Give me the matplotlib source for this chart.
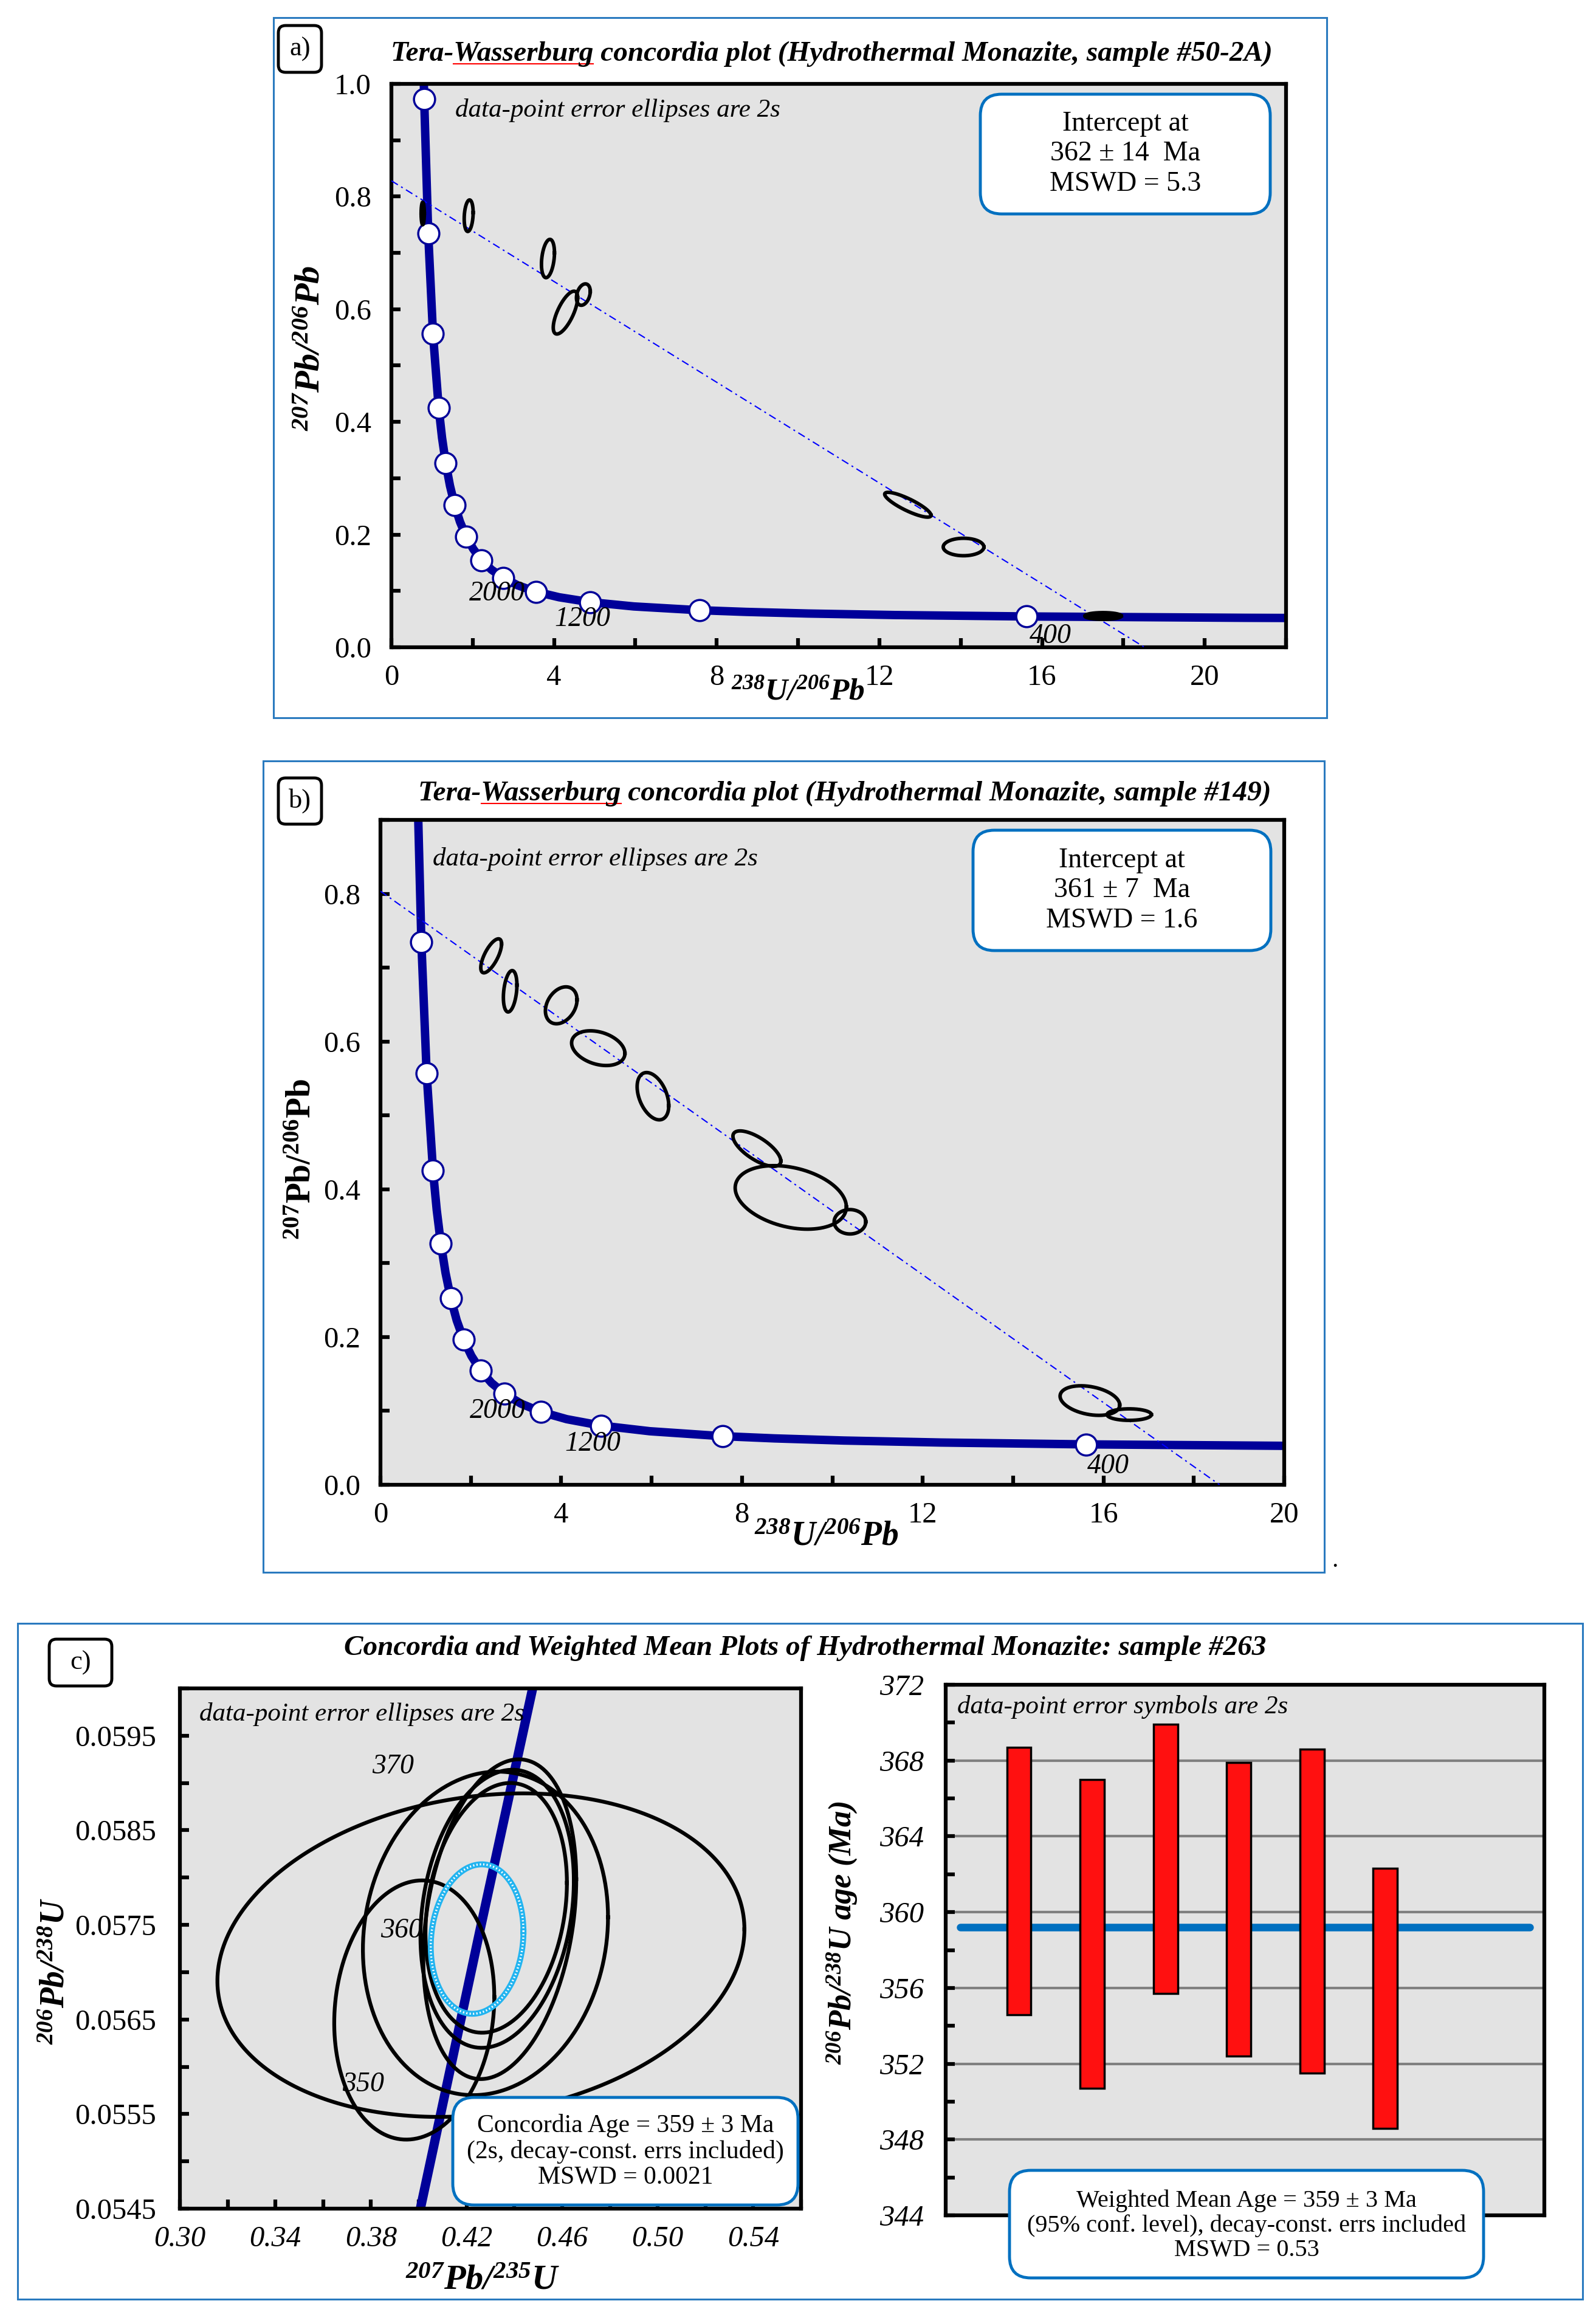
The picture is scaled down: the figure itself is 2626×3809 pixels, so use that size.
import numpy as np
import matplotlib
matplotlib.use("Agg")
import matplotlib.pyplot as plt
from matplotlib.patches import FancyBboxPatch, Rectangle
from matplotlib.lines import Line2D
from matplotlib.transforms import IdentityTransform
from matplotlib.ticker import MultipleLocator

plt.rcParams['font.family'] = ['Liberation Serif', 'DejaVu Serif']
plt.rcParams['mathtext.fontset'] = 'custom'
plt.rcParams['mathtext.rm'] = 'Liberation Serif'
plt.rcParams['mathtext.it'] = 'Liberation Serif:italic'
plt.rcParams['mathtext.bf'] = 'Liberation Serif:bold'
plt.rcParams['mathtext.bfit'] = 'Liberation Serif:italic:bold'

# ---- Tera-Wasserburg concordia (panels a, b) ----
tw_curve_x = [0.784, 0.806, 0.905, 1.022, 1.163, 1.245, 1.337, 1.440, 1.556, 1.687,
              1.838, 2.013, 2.217, 2.459, 2.749, 3.105, 3.550, 4.123, 4.887, 5.959,
              7.570, 8.718, 10.25, 12.40, 15.62, 20.99, 22.5]
tw_curve_y = [1.046, 0.9735, 0.7348, 0.557, 0.425, 0.372, 0.3265, 0.2868, 0.2524, 0.2226,
              0.1968, 0.1744, 0.1548, 0.1378, 0.1233, 0.1100, 0.0987, 0.0888, 0.0801, 0.0725,
              0.0658, 0.0628, 0.0599, 0.0572, 0.0547, 0.0523, 0.0519]
tw_mark_x = [0.806, 0.905, 1.022, 1.163, 1.337, 1.556, 1.838, 2.217, 2.749, 3.550, 4.887, 7.570, 15.62]
tw_mark_y = [0.9735, 0.7348, 0.557, 0.425, 0.3265, 0.2524, 0.1968, 0.1548, 0.1233, 0.0987, 0.0801, 0.0658, 0.0547]
tw_age_labels = ["2000", "1200", "400"]

# panel a: sample #50-2A
a_cx = [0.77, 1.90, 3.85, 4.28, 4.72, 12.70, 14.07, 17.50]
a_cy = [0.770, 0.766, 0.690, 0.594, 0.626, 0.253, 0.178, 0.0555]
a_sx = [0.04, 0.11, 0.16, 0.30, 0.17, 0.57, 0.50, 0.45]
a_sy = [0.020, 0.028, 0.034, 0.038, 0.019, 0.022, 0.0155, 0.006]
a_rho = [0.0, 0.2, 0.3, 0.7, 0.3, -0.85, 0.0, 0.0]
a_fill = [True, False, False, False, False, False, False, True]
a_disc_x = [0.0, 18.52]
a_disc_y = [0.828, 0.0]
a_age_x = [2.6, 4.7, 16.2]
a_age_y = [0.095, 0.050, 0.020]

# panel b: sample #149
b_cx = [2.45, 2.87, 4.00, 4.82, 6.03, 8.33, 9.08, 10.39, 15.70, 16.57]
b_cy = [0.716, 0.668, 0.649, 0.591, 0.526, 0.455, 0.389, 0.356, 0.114, 0.095]
b_sx = [0.23, 0.15, 0.35, 0.59, 0.35, 0.53, 1.23, 0.35, 0.66, 0.49]
b_sy = [0.023, 0.028, 0.025, 0.0235, 0.032, 0.024, 0.043, 0.0165, 0.020, 0.0078]
b_rho = [0.7, 0.3, 0.3, -0.3, -0.4, -0.7, -0.3, 0.0, -0.3, 0.0]
b_disc_x = [0.0, 18.57]
b_disc_y = [0.8035, 0.0]
b_age_x = [2.6, 4.7, 16.1]
b_age_y = [0.100, 0.055, 0.025]

# ---- panel c: Wetherill concordia, sample #263 ----
c_conc_x = [0.39776, 0.4116, 0.4255, 0.4397, 0.45386]
c_conc_y = [0.054158, 0.05579, 0.05743, 0.05908, 0.060719]
c_age_labels = ["370", "360", "350"]
c_age_x = [0.3893, 0.3927, 0.3767]
c_age_y = [0.05917, 0.05744, 0.05581]
c_cx = [0.4260, 0.4279, 0.3981, 0.4339, 0.4328, 0.4324]
c_cy = [0.05718, 0.05741, 0.05660, 0.05756, 0.05767, 0.05768]
c_sx = [0.1103, 0.0513, 0.0335, 0.0320, 0.0321, 0.0296]
c_sy = [0.00171, 0.00171, 0.00137, 0.00169, 0.00147, 0.00132]
c_rho = [0.16, 0.1, 0.1, 0.25, 0.2, 0.2]
conc_age = dict(cx=0.4244, cy=0.05735, sx=0.0194, sy=0.00079, rho=0.1)

# weighted mean bars
wm_lo = [354.6, 350.7, 355.7, 352.4, 351.5, 348.6]
wm_hi = [368.7, 367.0, 369.9, 367.9, 368.6, 362.3]
wm_mean = 359.2

NAVY = '#000099'
BOXBLUE = '#0070c0'
FRAMEBLUE = '#2a7abf'
BG = '#e3e3e3'
W, H = 2626, 3809
TICK = 35
NOTE = 31
BOXTXT = 33


def ellipse_xy(cx, cy, sx, sy, rho):
    t = np.linspace(0, 2 * np.pi, 300)
    return cx + sx * np.cos(t), cy + sy * (rho * np.cos(t) + np.sqrt(1 - rho ** 2) * np.sin(t))


def px_axes(x0, y0, x1, y1):
    # pixel box (top-left origin) -> axes rect
    return fig.add_axes([x0 / W, 1 - y1 / H, (x1 - x0) / W, (y1 - y0) / H])


def px_box(x0, y0, x1, y1, lw=3.5, color=BOXBLUE, r=0.35):
    p = FancyBboxPatch((x0 / 100, (H - y1) / 100), (x1 - x0) / 100, (y1 - y0) / 100,
                       boxstyle="round,pad=0,rounding_size=%g" % r,
                       transform=fig.dpi_scale_trans, fc='white', ec=color, lw=lw, zorder=5)
    fig.add_artist(p)


def px_frame(x0, y0, x1, y1):
    fig.add_artist(Rectangle((x0 / W, 1 - y1 / H), (x1 - x0) / W, (y1 - y0) / H,
                             transform=fig.transFigure, fill=False, ec=FRAMEBLUE, lw=2.2))


def style_axes(ax):
    ax.set_facecolor(BG)
    for s in ax.spines.values():
        s.set_linewidth(4.5)
        s.set_color('black')
    ax.tick_params(which='both', direction='in', length=11, width=4.5, top=False, right=False)


fig = plt.figure(figsize=(W / 100, H / 100), dpi=100)

# frames
px_frame(450, 29, 2183, 1181)
px_frame(433, 1252, 2179, 2587)
px_frame(29, 2671, 2604, 3783)
fig.text(2196 / W, 1 - 2578 / H, ".", fontsize=30, ha='center', va='baseline')

# panel letter boxes
for (x0, y0, x1, y1, lab) in [(458, 42, 529, 119, "a)"), (458, 1280, 529, 1356, "b)"), (81, 2697, 184, 2774, "c)")]:
    px_box(x0, y0, x1, y1, lw=3.5, color='black', r=0.12)
    fig.text((x0 + x1) / 2 / W, 1 - (y0 + y1) / 2 / H, lab, fontsize=32, ha='center', va='center', zorder=6)

title_kw = dict(fontsize=34, fontweight='bold', fontstyle='italic', ha='center', va='center', zorder=6)
ta = fig.text(1368 / W, 1 - 89 / H, "Tera-Wasserburg concordia plot (Hydrothermal Monazite, sample #50-2A)", **title_kw)
tb = fig.text(1390 / W, 1 - 1306 / H, "Tera-Wasserburg concordia plot (Hydrothermal Monazite, sample #149)", **title_kw)
fig.text(1325 / W, 1 - 2712 / H, "Concordia and Weighted Mean Plots of Hydrothermal Monazite: sample #263", **title_kw)


def tw_panel(ax, cx, cy, sx, sy, rho, fill, disc_x, disc_y, age_x, age_y, ylim, xlim, xticks):
    style_axes(ax)
    ax.plot(tw_curve_x, tw_curve_y, color=NAVY, lw=10, solid_capstyle='butt', zorder=2)
    ax.plot(tw_mark_x, tw_mark_y, 'o', ms=25, mfc='white', mec=NAVY, mew=2.5, zorder=3)
    ax.plot(disc_x, disc_y, color='#0000ff', lw=1.5, ls=(0, (6, 3, 1.5, 3)), zorder=4)
    for i in range(len(cx)):
        ex, ey = ellipse_xy(cx[i], cy[i], sx[i], sy[i], rho[i])
        if fill[i]:
            ax.fill(ex, ey, color='black', zorder=5)
        ax.plot(ex, ey, color='black', lw=4.2, zorder=5)
    for lab, x, y in zip(tw_age_labels, age_x, age_y):
        ax.text(x, y, lab, fontsize=33, fontstyle='italic', ha='center', va='center', zorder=6)
    ax.set_xlim(*xlim)
    ax.set_ylim(*ylim)
    ax.set_xticks(xticks)
    ax.set_xticklabels([str(t) for t in xticks])
    ax.xaxis.set_minor_locator(MultipleLocator(2))
    ax.yaxis.set_major_locator(MultipleLocator(0.2))
    ax.yaxis.set_minor_locator(MultipleLocator(0.1))
    ax.yaxis.set_major_formatter(plt.FuncFormatter(lambda v, p: "%.1f" % v))
    ax.tick_params(axis='y', labelsize=TICK, pad=24)
    ax.tick_params(axis='x', labelsize=TICK, pad=20)


# ---- panel a ----
ax_a = px_axes(644, 138, 2116, 1065)
tw_panel(ax_a, a_cx, a_cy, a_sx, a_sy, a_rho, a_fill, a_disc_x, a_disc_y, a_age_x, a_age_y,
         (0, 1.0), (0, 22), [0, 4, 8, 12, 16, 20])
ax_a.text(0.071, 0.953, "data-point error ellipses are 2s", transform=ax_a.transAxes,
          fontsize=NOTE, fontstyle='italic', va='center', zorder=6)
ax_a.text(-0.090, 0.531, r'$\mathbfit{^{207}Pb/^{206}Pb}$', transform=ax_a.transAxes,
          fontsize=42, rotation=90, ha='center', va='center')
ax_a.text(0.4545, -0.080, r'$\mathbfit{^{238}U/^{206}Pb}$', transform=ax_a.transAxes,
          fontsize=37, ha='center', va='center')
px_box(1613, 155, 2090, 352)
fig.text((1613 + 2090) / 2 / W, 1 - 253 / H, "Intercept at\n362 ± 14  Ma\nMSWD = 5.3",
         fontsize=BOXTXT, ha='center', va='center', linespacing=1.2, zorder=6)

# ---- panel b ----
ax_b = px_axes(626, 1349, 2113, 2443)
tw_panel(ax_b, b_cx, b_cy, b_sx, b_sy, b_rho, [False] * len(b_cx), b_disc_x, b_disc_y, b_age_x, b_age_y,
         (0, 0.9), (0, 20), [0, 4, 8, 12, 16, 20])
ax_b.text(0.058, 0.941, "data-point error ellipses are 2s", transform=ax_b.transAxes,
          fontsize=NOTE, fontstyle='italic', va='center', zorder=6)
ax_b.text(-0.087, 0.489, r'$\mathbf{^{207}Pb/^{206}Pb}$', transform=ax_b.transAxes,
          fontsize=40, rotation=90, ha='center', va='center')
ax_b.text(0.4936, -0.0777, r'$\mathbfit{^{238}U/^{206}Pb}$', transform=ax_b.transAxes,
          fontsize=40, ha='center', va='center')
px_box(1601, 1366, 2091, 1564)
fig.text((1601 + 2091) / 2 / W, 1 - 1465 / H, "Intercept at\n361 ± 7  Ma\nMSWD = 1.6",
         fontsize=BOXTXT, ha='center', va='center', linespacing=1.2, zorder=6)

# ---- panel c left: concordia ----
ax_c = px_axes(296, 2778, 1318, 3634)
style_axes(ax_c)
ax_c.plot(c_conc_x, c_conc_y, color=NAVY, lw=11, zorder=2)
for i in range(len(c_cx)):
    ex, ey = ellipse_xy(c_cx[i], c_cy[i], c_sx[i], c_sy[i], c_rho[i])
    ax_c.plot(ex, ey, color='black', lw=4.5, zorder=3)
ex, ey = ellipse_xy(**conc_age)
ax_c.plot(ex, ey, color='#22b4f0', lw=7, zorder=4)
ax_c.plot(ex, ey, color='white', lw=2.5, ls=(0, (0.6, 1.0)), zorder=5)
for lab, x, y in zip(c_age_labels, c_age_x, c_age_y):
    ax_c.text(x, y, lab, fontsize=33, fontstyle='italic', ha='center', va='center', zorder=6)
ax_c.set_xlim(0.30, 0.56)
ax_c.set_ylim(0.0545, 0.0600)
ax_c.set_xticks(np.arange(0.30, 0.55, 0.04))
ax_c.xaxis.set_major_formatter(plt.FuncFormatter(lambda v, p: "%.2f" % v))
ax_c.xaxis.set_minor_locator(MultipleLocator(0.02))
ax_c.set_yticks([0.0545, 0.0555, 0.0565, 0.0575, 0.0585, 0.0595])
ax_c.yaxis.set_major_formatter(plt.FuncFormatter(lambda v, p: "%.4f" % v))
ax_c.yaxis.set_minor_locator(MultipleLocator(0.0005))
ax_c.tick_params(axis='y', labelsize=TICK, pad=28)
ax_c.tick_params(axis='x', labelsize=TICK, pad=20)
for t in ax_c.get_xticklabels():
    t.set_fontstyle('italic')
ax_c.text(0.031, 0.95, "data-point error ellipses are 2s", transform=ax_c.transAxes,
          fontsize=NOTE, fontstyle='italic', va='center', zorder=6)
ax_c.text(-0.20, 0.457, r'$\mathbfit{^{206}Pb/^{238}U}$', transform=ax_c.transAxes,
          fontsize=40, rotation=90, ha='center', va='center')
ax_c.text(0.487, -0.138, r'$\mathbfit{^{207}Pb/^{235}U}$', transform=ax_c.transAxes,
          fontsize=42, ha='center', va='center')
px_box(745, 3451, 1313, 3628)
fig.text((745 + 1313) / 2 / W, 1 - 3540 / H,
         "Concordia Age = 359 ± 3 Ma\n(2s, decay-const. errs included)\nMSWD = 0.0021",
         fontsize=30, ha='center', va='center', linespacing=1.12, zorder=6)

# ---- panel c right: weighted mean ----
ax_w = px_axes(1556, 2772, 2541, 3645)
style_axes(ax_w)
ax_w.set_axisbelow(True)
ax_w.yaxis.grid(True, which='major', color='#808080', lw=3)
xpos = np.arange(1, len(wm_lo) + 1)
ax_w.bar(xpos, np.array(wm_hi) - np.array(wm_lo), bottom=wm_lo, width=0.33,
         color='#ff1010', edgecolor='black', lw=2.5, zorder=3)
ax_w.plot([0.2, 7.97], [wm_mean, wm_mean], color=BOXBLUE, lw=9, solid_capstyle='round', zorder=2)
ax_w.set_xlim(0, 8.17)
ax_w.set_ylim(344, 372)
ax_w.set_xticks([])
ax_w.yaxis.set_major_locator(MultipleLocator(4))
ax_w.yaxis.set_minor_locator(MultipleLocator(2))
ax_w.tick_params(axis='y', labelsize=TICK, pad=26)
for t in ax_w.get_yticklabels():
    t.set_fontstyle('italic')
ax_w.text(0.019, 0.958, "data-point error symbols are 2s", transform=ax_w.transAxes,
          fontsize=NOTE, fontstyle='italic', va='center', zorder=6)
ax_w.text(-0.173, 0.533, r'$\mathbfit{^{206}Pb/^{238}U\ age\ (Ma)}$', transform=ax_w.transAxes,
          fontsize=38, rotation=90, ha='center', va='center')
px_box(1661, 3571, 2441, 3748)
fig.text((1661 + 2441) / 2 / W, 1 - 3662 / H,
         "Weighted Mean Age = 359 ± 3 Ma\n(95% conf. level), decay-const. errs included\nMSWD = 0.53",
         fontsize=29, ha='center', va='center', linespacing=1.12, zorder=6)

# red spell-check underline under "Wasserburg"
fig.canvas.draw()
rend = fig.canvas.get_renderer()
for t in (ta, tb):
    bb = t.get_window_extent(rend)
    tmp = fig.text(0, 0, "Tera-", fontsize=34, fontweight='bold', fontstyle='italic')
    w1 = tmp.get_window_extent(rend).width
    tmp.set_text("Tera-Wasserburg")
    w2 = tmp.get_window_extent(rend).width
    tmp.remove()
    fig.add_artist(Line2D([bb.x0 + w1, bb.x0 + w2], [bb.y0 + 5, bb.y0 + 5],
                          transform=IdentityTransform(), color='red', lw=1.5))

fig.savefig("out.png", dpi=100)
